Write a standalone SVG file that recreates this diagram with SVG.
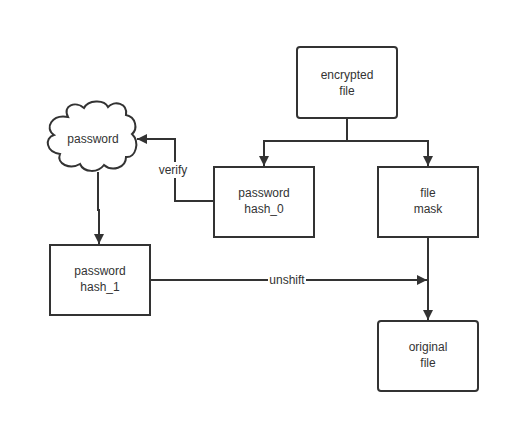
<svg xmlns="http://www.w3.org/2000/svg" width="510" height="423" viewBox="0 0 510 423">
<style>
.box{fill:#fff;stroke:#333;stroke-width:2}
.t{font-family:"Liberation Sans",Arial,sans-serif;font-size:12px;fill:#333;text-anchor:middle}
.c{fill:none;stroke:#333;stroke-width:2}
</style>
<defs>
<marker id="ah" viewBox="0 0 10 10" refX="10" refY="5" markerWidth="5.5" markerHeight="5" orient="auto" markerUnits="strokeWidth">
<path d="M0,0 L10,5 L0,10 Z" fill="#333"/>
</marker>
</defs>
<rect width="510" height="423" fill="#fff"/>
<g id="connectors">
<path class="c" d="M347,118 V141 H264 V166" marker-end="url(#ah)"/>
<path class="c" d="M347,141 H428 V166" marker-end="url(#ah)"/>
<path class="c" d="M214,201 H175 V139 H137" marker-end="url(#ah)"/>
<path class="c" d="M98,172 V210 H99 V244" marker-end="url(#ah)"/>
<path class="c" d="M150,280 H427" marker-end="url(#ah)"/>
<path class="c" d="M428,237 V320" marker-end="url(#ah)"/>
<rect x="155" y="162" width="36" height="16" fill="#fff"/>
<text class="t" x="173" y="174">verify</text>
<rect x="268" y="272" width="38" height="16" fill="#fff"/>
<text class="t" x="287" y="284">unshift</text>
</g>
<g id="encrypted-file">
<rect class="box" x="297" y="47" width="100" height="71" rx="3"/>
<text class="t" x="347" y="79">encrypted</text>
<text class="t" x="347" y="95">file</text>
</g>
<g id="password">
<path class="box" d="M68,117 C62,105 76,101 84,108 C88,100 104,99 108,107 C114,100 128,103 126,115 C136,117 138,129 132,134 C140,142 136,158 126,157 C126,168 112,172 104,165 C98,173 84,173 80,164 C70,170 56,164 60,154 C46,152 44,138 54,135 C44,128 52,114 68,117 Z"/>
<text class="t" x="93" y="143">password</text>
</g>
<g id="password-hash-0">
<rect class="box" x="214" y="167" width="100" height="70"/>
<text class="t" x="264" y="197">password</text>
<text class="t" x="264" y="213">hash_0</text>
</g>
<g id="file-mask">
<rect class="box" x="378" y="167" width="100" height="70"/>
<text class="t" x="428" y="197">file</text>
<text class="t" x="428" y="213">mask</text>
</g>
<g id="password-hash-1">
<rect class="box" x="50" y="245" width="100" height="70"/>
<text class="t" x="100" y="275">password</text>
<text class="t" x="100" y="291">hash_1</text>
</g>
<g id="original-file">
<rect class="box" x="378" y="321" width="100" height="70" rx="3"/>
<text class="t" x="428" y="351">original</text>
<text class="t" x="428" y="367">file</text>
</g>
</svg>
